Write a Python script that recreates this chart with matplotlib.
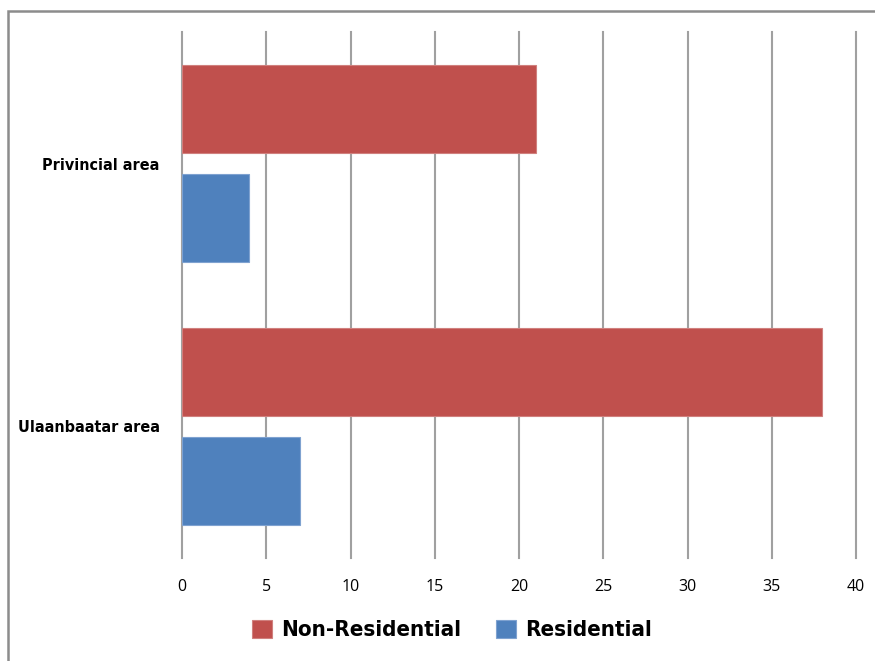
import matplotlib
matplotlib.use("Agg")
import matplotlib.pyplot as plt
from matplotlib.patches import Rectangle

# data
categories = ["Ulaanbaatar area", "Privincial area"]
non_residential = [38, 21]
residential = [7, 4]
x_ticks = [0, 5, 10, 15, 20, 25, 30, 35, 40]

red = "#C0504D"
blue = "#4F81BD"

fig = plt.figure(figsize=(8.75, 6.61), dpi=100)
ax = fig.add_axes([182 / 875, 1 - 558 / 661, 674 / 875, 526 / 661])

pos = list(range(len(categories)))
h = 0.335
off = 0.207
ax.barh([p + off for p in pos], non_residential, height=h, color=red,
        edgecolor="#D0807E", linewidth=0.8, label="Non-Residential", zorder=3)
ax.barh([p - off for p in pos], residential, height=h, color=blue,
        edgecolor="#7FA2D0", linewidth=0.8, label="Residential", zorder=3)

ax.set_xlim(0, 40)
ax.set_ylim(-0.5, 1.5)
ax.set_xticks(x_ticks)
ax.set_xticklabels([str(t) for t in x_ticks], family="Open Sans", fontsize=11.5)
ax.set_yticks(pos)
ax.set_yticklabels(categories, family="DejaVu Sans", stretch="condensed",
                   fontweight="bold", fontsize=11.5)
ax.tick_params(axis="both", length=0)
ax.tick_params(axis="x", pad=15)
ax.tick_params(axis="y", pad=16)
ax.grid(axis="x", color="#A0A0A0", linewidth=1.5, zorder=0)
for gl in ax.get_xgridlines():
    gl.set_clip_on(False)
for s in ax.spines.values():
    s.set_visible(False)

leg = fig.legend(loc="center", bbox_to_anchor=(452 / 875, 1 - 630 / 661), ncol=2,
                 frameon=False, handlelength=0.9, handleheight=0.9, handletextpad=0.4,
                 columnspacing=1.6,
                 prop={"family": "DejaVu Sans", "stretch": "condensed", "weight": "bold", "size": 16})

# outer frame
fig.patches.append(Rectangle((7.5 / 875, -0.05), 1.2, 1 - 10.5 / 661 + 0.05,
                             transform=fig.transFigure, fill=False,
                             edgecolor="#8C8C8C", linewidth=1.8))

fig.savefig("out.png", dpi=100)
